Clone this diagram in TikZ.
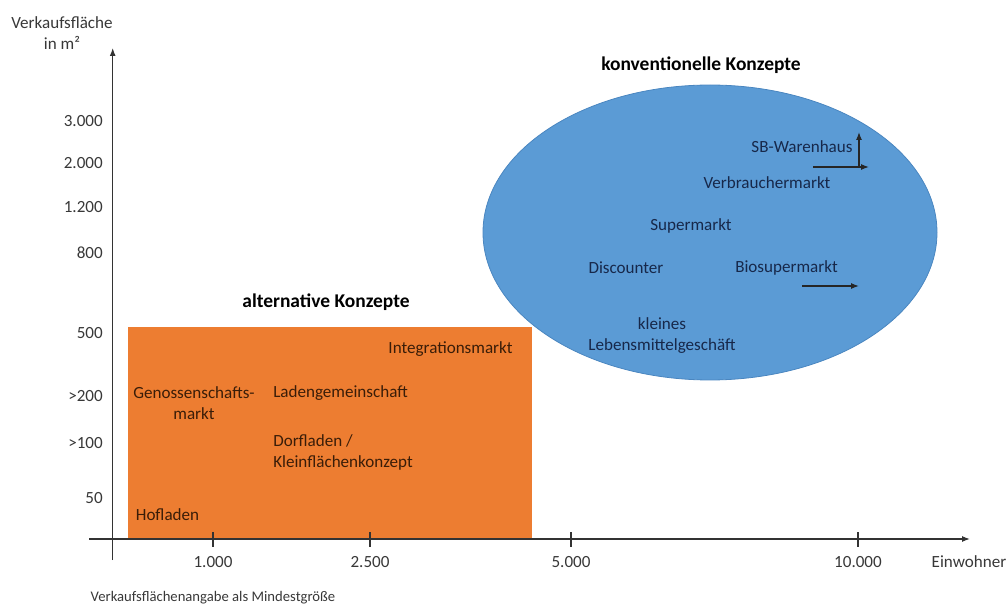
\documentclass[tikz,border=0pt]{standalone}
\usepackage{fontspec}
\setmainfont{Carlito}
\usetikzlibrary{arrows.meta}
\definecolor{orng}{HTML}{ED7D31}
\definecolor{blu}{HTML}{5B9BD5}
\definecolor{bluedge}{HTML}{4A86C0}
\definecolor{txtblue}{HTML}{17284A}
\definecolor{txtorng}{HTML}{3A1D08}
\definecolor{axtxt}{HTML}{383838}
\tikzset{
  lbl/.style={inner sep=0pt, font=\fontsize{12.8}{15.8}\selectfont},
  axlbl/.style={lbl, text=axtxt},
  ylbl/.style={axlbl, anchor=east},
  inblue/.style={lbl, text=txtblue, align=center},
  inorange/.style={lbl, text=txtorng, align=center},
  ttl/.style={inner sep=0pt, font=\fontsize{14.6}{17}\selectfont\bfseries, text=black},
  axis/.style={draw=black!80, line width=0.9pt},
  arr/.style={-{Latex[length=6pt,width=4.5pt]}},
  tick/.style={draw=black!80, line width=0.8pt},
}
\begin{document}
\begin{tikzpicture}[x=0.75pt,y=-0.75pt]
\useasboundingbox (0,0) rectangle (1008,606);
% shapes
\fill[orng] (128,327) rectangle (532,539);
\draw[fill=blu, draw=bluedge, line width=0.6pt] (710,232.5) ellipse [x radius=227, y radius=147.5];
% axes
\coordinate (yb) at (112.7,560);
\coordinate (yt) at (112.7,48);
\coordinate (xl) at (89,539);
\coordinate (xr) at (970,539);
\draw[axis, arr] (yb) -- (yt);
\draw[axis, arr] (xl) -- (xr);
% x ticks
\foreach \xx/\nm in {213/a,370/b,571/c,858/d}{
  \coordinate (t\nm) at (\xx,532);
  \coordinate (b\nm) at (\xx,547);
  \draw[tick] (t\nm) -- (b\nm);
}
% x labels
\node[axlbl] (x1) at (213,562) {1.000};
\node[axlbl] (x2) at (370,562) {2.500};
\node[axlbl] (x3) at (571,562) {5.000};
\node[axlbl] (x4) at (858,562) {10.000};
\node[axlbl] (xe) at (969,562) {Einwohner};
\node[axlbl, font=\fontsize{11}{13}\selectfont] (note) at (213,598) {Verkaufsflächenangabe als Mindestgröße};
% y labels
\node[ylbl] (y1) at (103,121) {3.000};
\node[ylbl] (y2) at (103,163) {2.000};
\node[ylbl] (y3) at (103,207) {1.200};
\node[ylbl] (y4) at (103,253) {800};
\node[ylbl] (y5) at (103,333) {500};
\node[ylbl] (y6) at (103,396) {>200};
\node[ylbl] (y7) at (103,443) {>100};
\node[ylbl] (y8) at (103,498) {50};
\node[axlbl, align=center] (yt1) at (62,33) {Verkaufsfläche\\in m²};
% titles
\node[ttl] (tk) at (701,65) {konventionelle Konzepte};
\node[ttl] (ta) at (326,302) {alternative Konzepte};
% blue items
\node[inblue] (sb) at (802,147) {SB-Warenhaus};
\node[inblue] (vm) at (767,183) {Verbrauchermarkt};
\node[inblue] (sm) at (691,226) {Supermarkt};
\node[inblue] (dc) at (626,268) {Discounter};
\node[inblue] (bs) at (786.5,268) {Biosupermarkt};
\node[inblue] (kl) at (662,336) {kleines\\Lebensmittelgeschäft};
% arrows in ellipse
\coordinate (sbc) at (859,167);
\coordinate (sbu) at (859,132);
\coordinate (sbl) at (813,167);
\coordinate (sbr) at (869,167);
\draw[line width=0.9pt, black!85, arr] (sbc) -- (sbu);
\draw[line width=0.9pt, black!85, arr] (sbl) -- (sbr);
\coordinate (bsl) at (802,286);
\coordinate (bsr) at (859,286);
\draw[line width=0.9pt, black!85, arr] (bsl) -- (bsr);
% orange items
\node[inorange] (im) at (450.5,349) {Integrationsmarkt};
\node[inorange] (gm) at (194,403) {Genossenschafts-\\markt};
\node[inorange, anchor=west] (lg) at (273,393) {Ladengemeinschaft};
\node[inorange, anchor=west, align=left] (df) at (273,452.5) {Dorfladen /\\Kleinflächenkonzept};
\node[inorange] (hl) at (167.5,515) {Hofladen};
\end{tikzpicture}
\end{document}
